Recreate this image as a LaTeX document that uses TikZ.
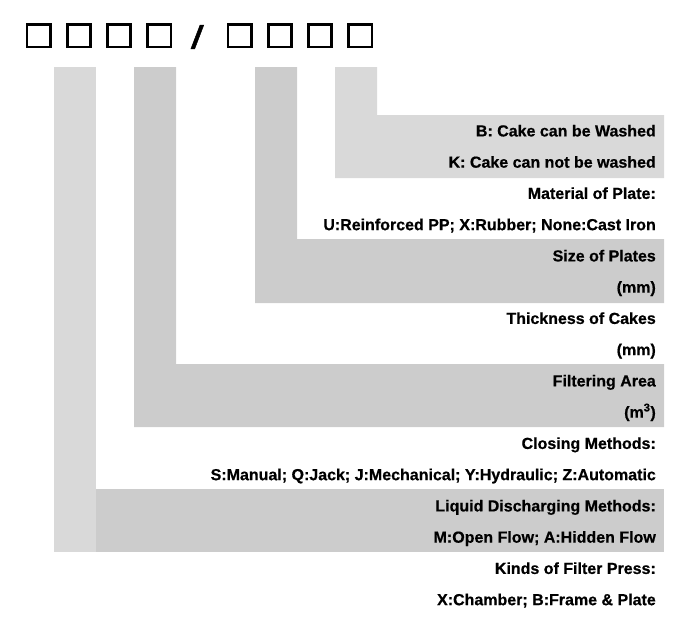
\documentclass[tikz,border=0pt]{standalone}
\usepackage{fontspec}
\setmainfont{Liberation Sans}
\newfontfamily\heavyfont{Liberation Sans Bold}[FakeBold=0.6]
\newfontfamily\slashfont{Liberation Sans Bold Italic}[FakeBold=1.5]
\usetikzlibrary{positioning}
\definecolor{barlight}{HTML}{D9D9D9}
\definecolor{bardark}{HTML}{CCCCCC}

\begin{document}
\begin{tikzpicture}[x=1pt,y=-1pt,
    slot/.style={draw,line width=2.7pt,minimum width=23.3pt,minimum height=22.3pt,inner sep=0pt},
    lbl/.style={anchor=base east,inner sep=0pt,font=\fontsize{16}{19}\heavyfont}]
  \useasboundingbox (0,0) rectangle (695,618);
  \fill[barlight] (54,67) rectangle (96,552);
  \fill[bardark] (96,489) rectangle (664,552);
  \fill[bardark] (134,67) rectangle (176,427) (176,364) rectangle (664,427);
  \fill[bardark] (255,67) rectangle (297,303) (297,239) rectangle (664,303);
  \fill[barlight] (335,67) rectangle (377,178) (377,115) rectangle (664,178);
  \foreach \i in {1,...,4} {
    \node[slot] (b-\i) at ({38.5+40.3*(\i-1)},35.8) {};
    \node[slot] (c-\i) at ({239.5+40.3*(\i-1)},35.8) {};
  }
  \node[inner sep=0pt,font=\fontsize{32}{32}\slashfont] (sl) at (196.5,37) {/};
  \foreach \txt [count=\i] in {B: Cake can be Washed, K: Cake can not be washed,
      Material of Plate:, U:Reinforced PP; X:Rubber; None:Cast Iron,
      Size of Plates, (mm), Thickness of Cakes, (mm),
      Filtering Area, (m\textsuperscript{3}),
      Closing Methods:, S:Manual; Q:Jack; J:Mechanical; Y:Hydraulic; Z:Automatic,
      Liquid Discharging Methods:, M:Open Flow; A:Hidden Flow,
      Kinds of Filter Press:, X:Chamber; B:Frame \& Plate}
    \node[lbl] (t-\i) at (656,{115+31.25*(\i-0.5)+5.8}) {\txt};
\end{tikzpicture}
\end{document}
